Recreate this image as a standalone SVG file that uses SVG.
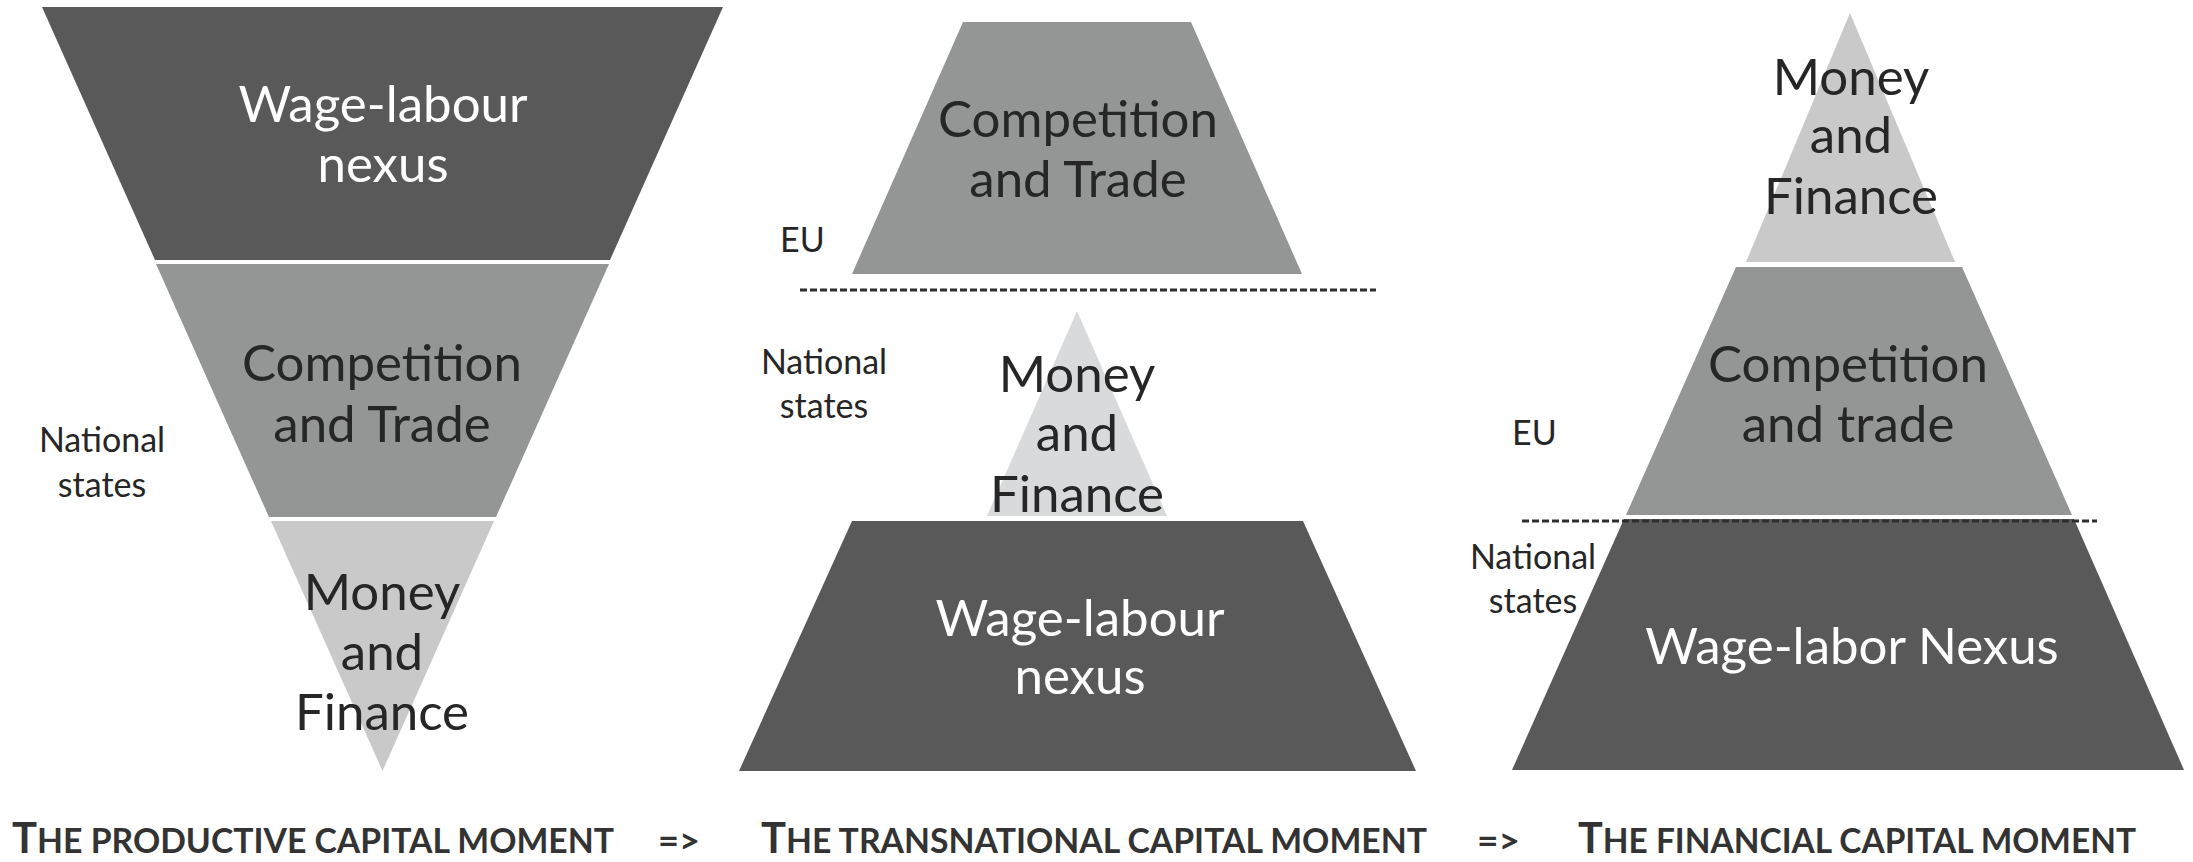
<svg xmlns="http://www.w3.org/2000/svg" width="2193" height="862" viewBox="0 0 2193 862">
<style>
.dark{fill:#595959}
.mid{fill:#949695}
.light{fill:#c9c9c9}
.lighter{fill:#d9dadb}
.big{font-family:Lato,"Open Sans",sans-serif;font-size:51px;text-anchor:middle}
.bd{fill:#262626}
.bw{fill:#ffffff}
.lab{font-family:Lato,"Open Sans",sans-serif;font-size:34px;fill:#262626}
.cap{font-family:Lato,"Liberation Sans",sans-serif;font-weight:700;fill:#333333;font-size:34px}
.capT{font-size:42px}
.dash{stroke:#2e2e2e;stroke-width:2.8;stroke-dasharray:7 3;fill:none}
</style>
<rect width="2193" height="862" fill="#ffffff"/>

<g id="productive">
  <g id="p-wage">
    <polygon class="dark" points="42,7 723,7 610,260 155,260"/>
    <text class="big bw" x="383" y="122">Wage-labour</text>
    <text class="big bw" x="383" y="182">nexus</text>
  </g>
  <g id="p-competition">
    <polygon class="mid" points="156,264 609,264 496,517 269,517"/>
    <text class="big bd" x="382" y="381">Competition</text>
    <text class="big bd" x="382" y="442">and Trade</text>
  </g>
  <g id="p-money">
    <polygon class="light" points="271,521 494,521 382.5,771"/>
    <text class="big bd" x="382" y="610">Money</text>
    <text class="big bd" x="382" y="670">and</text>
    <text class="big bd" x="382" y="730">Finance</text>
  </g>
  <g id="p-national">
    <text class="lab" x="102" y="452" text-anchor="middle">National</text>
    <text class="lab" x="102" y="497" text-anchor="middle">states</text>
  </g>
</g>

<g id="transnational">
  <g id="t-competition">
    <polygon class="mid" points="963,22 1191,22 1302,274 852,274"/>
    <text class="big bd" x="1078" y="137">Competition</text>
    <text class="big bd" x="1078" y="197">and Trade</text>
  </g>
  <g id="t-money">
    <polygon class="lighter" points="1077,311 1167,516 987,516"/>
    <text class="big bd" x="1077" y="392">Money</text>
    <text class="big bd" x="1077" y="451">and</text>
    <text class="big bd" x="1077" y="512">Finance</text>
  </g>
  <g id="t-wage">
    <polygon class="dark" points="852,521 1303,521 1416,771 739,771"/>
    <text class="big bw" x="1080" y="636">Wage-labour</text>
    <text class="big bw" x="1080" y="694">nexus</text>
  </g>
  <g id="t-eu">
    <text class="lab" x="780" y="252">EU</text>
  </g>
  <g id="t-national">
    <text class="lab" x="824" y="374" text-anchor="middle">National</text>
    <text class="lab" x="824" y="418" text-anchor="middle">states</text>
  </g>
</g>

<g id="financial">
  <g id="f-money">
    <polygon class="light" points="1850,13 1955,262 1746,262"/>
    <text class="big bd" x="1851" y="95">Money</text>
    <text class="big bd" x="1851" y="153">and</text>
    <text class="big bd" x="1851" y="214">Finance</text>
  </g>
  <g id="f-competition">
    <polygon class="mid" points="1736,267 1962,267 2072,515 1626,515"/>
    <text class="big bd" x="1848" y="382">Competition</text>
    <text class="big bd" x="1848" y="442">and trade</text>
  </g>
  <g id="f-wage">
    <polygon class="dark" points="1624,519 2074,519 2184,770 1512,770"/>
    <text class="big bw" x="1852" y="664">Wage-labor Nexus</text>
  </g>
  <g id="f-eu">
    <text class="lab" x="1512" y="445">EU</text>
  </g>
  <g id="f-national">
    <text class="lab" x="1533" y="569" text-anchor="middle">National</text>
    <text class="lab" x="1533" y="613" text-anchor="middle">states</text>
  </g>
</g>

<g id="connectors">
  <line class="dash" x1="800" y1="290" x2="1376" y2="290"/>
  <line class="dash" x1="1522" y1="521" x2="2097" y2="521"/>
</g>

<g id="captions">
  <text class="cap" x="12" y="853" textLength="602" lengthAdjust="spacingAndGlyphs"><tspan class="capT">T</tspan>HE PRODUCTIVE CAPITAL MOMENT</text>
  <text class="cap" x="658" y="853" textLength="42" lengthAdjust="spacingAndGlyphs">=&gt;</text>
  <text class="cap" x="761" y="853" textLength="666" lengthAdjust="spacingAndGlyphs"><tspan class="capT">T</tspan>HE TRANSNATIONAL CAPITAL MOMENT</text>
  <text class="cap" x="1477" y="853" textLength="43" lengthAdjust="spacingAndGlyphs">=&gt;</text>
  <text class="cap" x="1578" y="853" textLength="558" lengthAdjust="spacingAndGlyphs"><tspan class="capT">T</tspan>HE FINANCIAL CAPITAL MOMENT</text>
</g>
</svg>
